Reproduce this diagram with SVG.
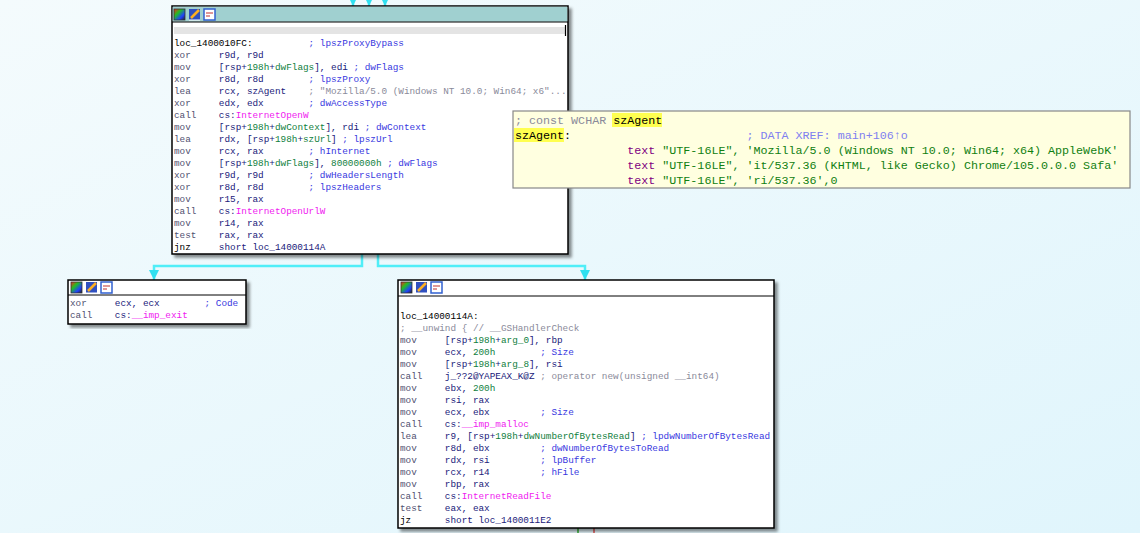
<svg xmlns="http://www.w3.org/2000/svg" width="1140" height="533" viewBox="0 0 1140 533">
<defs>
<linearGradient id="bg" x1="0" y1="0" x2="1" y2="1"><stop offset="0" stop-color="#f4fbfd"/><stop offset="1" stop-color="#e0f5fc"/></linearGradient>
<linearGradient id="ic1" x1="0" y1="0" x2="1" y2="1"><stop offset="0" stop-color="#ff2020"/><stop offset="0.35" stop-color="#20c020"/><stop offset="0.7" stop-color="#2040ff"/><stop offset="1" stop-color="#202020"/></linearGradient>
<marker id="ar" viewBox="0 0 10 10" refX="10" refY="5" markerWidth="10" markerHeight="10" markerUnits="userSpaceOnUse" orient="auto"><path d="M0,0 L10,5 L0,10 Z" fill="#30e0f0"/></marker>
<filter id="sh" x="-5%" y="-5%" width="115%" height="115%"><feDropShadow dx="3" dy="3" stdDeviation="1.5" flood-color="#000" flood-opacity="0.45"/></filter>
<g id="icons">
<rect x="0" y="0" width="11" height="11" fill="url(#ic1)" stroke="#333" stroke-width="0.8"/>
<rect x="15" y="0" width="11" height="11" fill="#3050c0"/><path d="M17,9 L25,1" stroke="#ffb020" stroke-width="2.5"/><path d="M15,11 L26,11" stroke="#fff" stroke-width="1"/>
<rect x="30" y="0" width="11" height="11" fill="#fff" stroke="#3060d0" stroke-width="1.5"/><path d="M32,4 h7 M32,7 h4" stroke="#c03030" stroke-width="1.2"/>
</g>
</defs>
<style>
.t{font-family:"Liberation Mono","DejaVu Sans Mono",monospace;font-size:9.35px;fill:#20207a;white-space:pre}
.tt{font-family:"Liberation Mono","DejaVu Sans Mono",monospace;font-size:11.7px;fill:#20207a;white-space:pre}
.m{fill:#505070}.c{fill:#3838e0}.g{fill:#108040}.i{fill:#f020f0}.gr{fill:#8a8a9a}
.p{fill:#800080}.s{fill:#108010}.x{fill:#8080f0}.k{fill:#000}
.box{fill:#fff;stroke:#000;stroke-width:1.5}
.e{fill:none;stroke:#50eef8;stroke-width:2.5}
</style>
<rect width="1140" height="533" fill="url(#bg)"/>
<g id="connectors">
<path class="e" d="M353,0 V6" marker-end="url(#ar)"/>
<path class="e" d="M369,0 V6" marker-end="url(#ar)"/>
<path class="e" d="M385,0 V6" marker-end="url(#ar)"/>
<path class="e" d="M362,254 V266 H154 V280" marker-end="url(#ar)"/>
<path class="e" d="M378,254 V266 H585 V280" marker-end="url(#ar)"/>
<path d="M578,528 V533" stroke="#30b030" stroke-width="1.5"/>
<path d="M594,528 V533" stroke="#e05050" stroke-width="1.5"/>
</g>
<g id="node_1400010FC">
<rect class="box" x="172" y="6" width="396" height="248" filter="url(#sh)"/>
<rect x="172.75" y="6.75" width="394.5" height="15" fill="#a0d0d0"/>
<line x1="172" y1="22" x2="568" y2="22" stroke="#000" stroke-width="1"/>
<use href="#icons" x="174" y="9"/>
<rect x="174" y="27" width="391" height="7" fill="#e4e4e4"/>
<line x1="565.5" y1="25" x2="565.5" y2="36" stroke="#000" stroke-width="1.2"/>
<text class="t" x="174" y="46"><tspan x="174" class="k">loc_1400010FC:</tspan><tspan class="c">          ; lpszProxyBypass</tspan><tspan x="174" dy="12" class="m">xor     </tspan><tspan>r9d, r9d</tspan><tspan x="174" dy="12" class="m">mov     </tspan><tspan>[rsp+</tspan><tspan class="g">198h</tspan><tspan>+</tspan><tspan class="g">dwFlags</tspan><tspan>], edi </tspan><tspan class="c">; dwFlags</tspan><tspan x="174" dy="12" class="m">xor     </tspan><tspan>r8d, r8d        </tspan><tspan class="c">; lpszProxy</tspan><tspan x="174" dy="12" class="m">lea     </tspan><tspan>rcx, szAgent    </tspan><tspan class="gr">; "Mozilla/5.0 (Windows NT 10.0; Win64; x6"...</tspan><tspan x="174" dy="12" class="m">xor     </tspan><tspan>edx, edx        </tspan><tspan class="c">; dwAccessType</tspan><tspan x="174" dy="12" class="m">call    </tspan><tspan>cs:</tspan><tspan class="i">InternetOpenW</tspan><tspan x="174" dy="12" class="m">mov     </tspan><tspan>[rsp+</tspan><tspan class="g">198h</tspan><tspan>+</tspan><tspan class="g">dwContext</tspan><tspan>], rdi </tspan><tspan class="c">; dwContext</tspan><tspan x="174" dy="12" class="m">lea     </tspan><tspan>rdx, [rsp+</tspan><tspan class="g">198h</tspan><tspan>+</tspan><tspan class="g">szUrl</tspan><tspan>] </tspan><tspan class="c">; lpszUrl</tspan><tspan x="174" dy="12" class="m">mov     </tspan><tspan>rcx, rax        </tspan><tspan class="c">; hInternet</tspan><tspan x="174" dy="12" class="m">mov     </tspan><tspan>[rsp+</tspan><tspan class="g">198h</tspan><tspan>+</tspan><tspan class="g">dwFlags</tspan><tspan>], </tspan><tspan class="g">80000000h</tspan><tspan> </tspan><tspan class="c">; dwFlags</tspan><tspan x="174" dy="12" class="m">xor     </tspan><tspan>r9d, r9d        </tspan><tspan class="c">; dwHeadersLength</tspan><tspan x="174" dy="12" class="m">xor     </tspan><tspan>r8d, r8d        </tspan><tspan class="c">; lpszHeaders</tspan><tspan x="174" dy="12" class="m">mov     </tspan><tspan>r15, rax</tspan><tspan x="174" dy="12" class="m">call    </tspan><tspan>cs:</tspan><tspan class="i">InternetOpenUrlW</tspan><tspan x="174" dy="12" class="m">mov     </tspan><tspan>r14, rax</tspan><tspan x="174" dy="12" class="m">test    </tspan><tspan>rax, rax</tspan><tspan x="174" dy="12" class="k">jnz     </tspan><tspan>short loc_14000114A</tspan></text>
</g>
<g id="node_tooltip">
<rect x="513" y="111" width="617" height="77" fill="#ffffe0" stroke="#888" stroke-width="1.2"/>
<rect x="612" y="113" width="50" height="14" fill="#ffff50"/>
<rect x="514" y="128" width="50" height="14" fill="#ffff50"/>
<text class="tt" x="515" y="124"><tspan class="gr">; const WCHAR </tspan><tspan class="k">szAgent</tspan><tspan x="515" dy="15" class="k">szAgent:</tspan><tspan class="x">                         ; DATA XREF: main+106↑o</tspan><tspan x="515" dy="15">                </tspan><tspan class="p">text </tspan><tspan class="s">"UTF-16LE", 'Mozilla/5.0 (Windows NT 10.0; Win64; x64) AppleWebK'</tspan><tspan x="515" dy="15">                </tspan><tspan class="p">text </tspan><tspan class="s">"UTF-16LE", 'it/537.36 (KHTML, like Gecko) Chrome/105.0.0.0 Safa'</tspan><tspan x="515" dy="15">                </tspan><tspan class="p">text </tspan><tspan class="s">"UTF-16LE", 'ri/537.36',0</tspan></text>
</g>
<g id="node_exit">
<rect class="box" x="68" y="280" width="178" height="44" filter="url(#sh)"/>
<line x1="68" y1="295" x2="246" y2="295" stroke="#000" stroke-width="1"/>
<use href="#icons" x="71" y="282"/>
<text class="t" x="70" y="306"><tspan class="m">xor     </tspan><tspan>ecx, ecx        </tspan><tspan class="c">; Code</tspan><tspan x="70" dy="12" class="m">call    </tspan><tspan>cs:</tspan><tspan class="i">__imp_exit</tspan></text>
</g>
<g id="node_14000114A">
<rect class="box" x="398" y="280" width="376" height="248" filter="url(#sh)"/>
<line x1="398" y1="296" x2="774" y2="296" stroke="#000" stroke-width="1"/>
<use href="#icons" x="401" y="282"/>
<text class="t" x="400" y="319"><tspan class="k">loc_14000114A:</tspan><tspan x="400" dy="12" class="gr">; __unwind { // __GSHandlerCheck</tspan><tspan x="400" dy="12" class="m">mov     </tspan><tspan>[rsp+</tspan><tspan class="g">198h</tspan><tspan>+</tspan><tspan class="g">arg_0</tspan><tspan>], rbp</tspan><tspan x="400" dy="12" class="m">mov     </tspan><tspan>ecx, </tspan><tspan class="g">200h</tspan><tspan>        </tspan><tspan class="c">; Size</tspan><tspan x="400" dy="12" class="m">mov     </tspan><tspan>[rsp+</tspan><tspan class="g">198h</tspan><tspan>+</tspan><tspan class="g">arg_8</tspan><tspan>], rsi</tspan><tspan x="400" dy="12" class="m">call    </tspan><tspan>j_??2@YAPEAX_K@Z </tspan><tspan class="gr">; operator new(unsigned __int64)</tspan><tspan x="400" dy="12" class="m">mov     </tspan><tspan>ebx, </tspan><tspan class="g">200h</tspan><tspan x="400" dy="12" class="m">mov     </tspan><tspan>rsi, rax</tspan><tspan x="400" dy="12" class="m">mov     </tspan><tspan>ecx, ebx         </tspan><tspan class="c">; Size</tspan><tspan x="400" dy="12" class="m">call    </tspan><tspan>cs:</tspan><tspan class="i">__imp_malloc</tspan><tspan x="400" dy="12" class="m">lea     </tspan><tspan>r9, [rsp+</tspan><tspan class="g">198h</tspan><tspan>+</tspan><tspan class="g">dwNumberOfBytesRead</tspan><tspan>] </tspan><tspan class="c">; lpdwNumberOfBytesRead</tspan><tspan x="400" dy="12" class="m">mov     </tspan><tspan>r8d, ebx         </tspan><tspan class="c">; dwNumberOfBytesToRead</tspan><tspan x="400" dy="12" class="m">mov     </tspan><tspan>rdx, rsi         </tspan><tspan class="c">; lpBuffer</tspan><tspan x="400" dy="12" class="m">mov     </tspan><tspan>rcx, r14         </tspan><tspan class="c">; hFile</tspan><tspan x="400" dy="12" class="m">mov     </tspan><tspan>rbp, rax</tspan><tspan x="400" dy="12" class="m">call    </tspan><tspan>cs:</tspan><tspan class="i">InternetReadFile</tspan><tspan x="400" dy="12" class="m">test    </tspan><tspan>eax, eax</tspan><tspan x="400" dy="12" class="k">jz      </tspan><tspan>short loc_1400011E2</tspan></text>
</g>
</svg>
